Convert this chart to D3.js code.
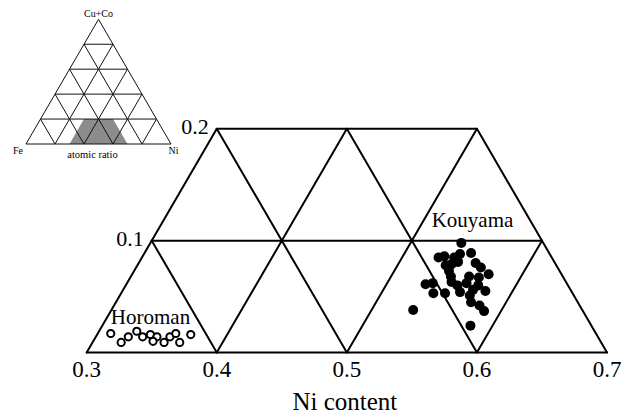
<!DOCTYPE html>
<html>
<head>
<meta charset="utf-8">
<script src="https://cdn.jsdelivr.net/npm/d3@7"></script>
<style>
  html, body { margin: 0; padding: 0; background: #fff; }
  svg { display: block; }
</style>
</head>
<body>
<svg id="chart" width="629" height="414"></svg>
<script>
// Ternary section Fe–Ni–(Cu+Co): compositions as atomic fractions (Ni, Cu+Co).
const niTicks = [0.3, 0.4, 0.5, 0.6, 0.7];
const cuCoTicks = [0.1, 0.2];
const niGrid = [0.3, 0.4, 0.5, 0.6];
const feGrid = [0.3, 0.4, 0.5, 0.6];
const cuCoGrid = [0, 0.1, 0.2];
const insetSteps = [0.2, 0.4, 0.6, 0.8];

const kouyamaNi = [0.539, 0.528, 0.532, 0.540, 0.543, 0.551, 0.541, 0.545, 0.559, 0.542,
                   0.565, 0.546, 0.560, 0.574, 0.568, 0.530, 0.535, 0.540, 0.549, 0.549,
                   0.560, 0.569, 0.569, 0.571, 0.579, 0.573, 0.581, 0.587, 0.532, 0.583,
                   0.555, 0.561, 0.537];
const kouyamaCuCo = [0.098, 0.085, 0.086, 0.085, 0.088, 0.089, 0.079, 0.081, 0.080, 0.073,
                     0.076, 0.068, 0.068, 0.070, 0.067, 0.061, 0.062, 0.053, 0.053, 0.063,
                     0.054, 0.051, 0.056, 0.060, 0.055, 0.045, 0.042, 0.037, 0.038, 0.024,
                     0.060, 0.062, 0.078];

const horomanNi = [0.310, 0.322, 0.325, 0.329, 0.336, 0.341, 0.347, 0.346, 0.355, 0.357,
                   0.360, 0.367, 0.372];
const horomanCuCo = [0.017, 0.009, 0.014, 0.019, 0.014, 0.016, 0.014, 0.010, 0.009, 0.014,
                     0.017, 0.009, 0.016];

const FONT = "'Liberation Serif', 'Times New Roman', Times, serif";
const svg = d3.select("#chart").attr("font-family", FONT);

// ---------- main diagram ----------
const x = d3.scaleLinear().domain([0.3, 0.7]).range([86.7, 607]);
const y = d3.scaleLinear().domain([0, 0.2]).range([352.5, 128.8]);
// horizontal position of a ternary point = Ni + (Cu+Co)/2
const px = (ni, c) => x(ni + c / 2);
const py = (ni, c) => y(c);

const segs = [];
cuCoGrid.forEach(c => segs.push([[0.3, c], [0.7 - c, c]]));
niGrid.forEach(n => segs.push([[n, 0], [n, Math.min(0.2, 0.7 - n)]]));
feGrid.forEach(f => {
  const cMax = Math.min(0.2, 0.7 - f);
  segs.push([[1 - f, 0], [1 - f - cMax, cMax]]);
});

const main = svg.append("g");
main.selectAll("line.grid").data(segs).join("line")
  .attr("x1", d => px(d[0][0], d[0][1])).attr("y1", d => py(d[0][0], d[0][1]))
  .attr("x2", d => px(d[1][0], d[1][1])).attr("y2", d => py(d[1][0], d[1][1]))
  .attr("stroke", "#000").attr("stroke-width", 2).attr("stroke-linecap", "round");

// Ni content ticks along the base
main.selectAll("text.ni").data(niTicks).join("text")
  .attr("font-family", FONT)
  .attr("x", d => px(d, 0)).attr("y", 377)
  .attr("text-anchor", "middle").attr("font-size", 23)
  .text(d => d.toFixed(1));

// Cu+Co ticks along the Ni = 0.3 edge
main.selectAll("text.cu").data(cuCoTicks).join("text")
  .attr("font-family", FONT)
  .attr("x", d => px(0.3, d) - 8).attr("y", d => py(0.3, d) + 5)
  .attr("text-anchor", "end").attr("font-size", 22)
  .text(d => d.toFixed(1));

main.append("text").attr("font-family", FONT)
  .attr("x", x(0.5) - 2).attr("y", 410)
  .attr("text-anchor", "middle").attr("font-size", 25).text("Ni content");

// sample points
main.selectAll("circle.k").data(kouyamaNi.map((n, i) => [n, kouyamaCuCo[i]])).join("circle")
  .attr("cx", d => px(d[0], d[1])).attr("cy", d => py(d[0], d[1]))
  .attr("r", 5).attr("fill", "#000");

main.selectAll("circle.h").data(horomanNi.map((n, i) => [n, horomanCuCo[i]])).join("circle")
  .attr("cx", d => px(d[0], d[1])).attr("cy", d => py(d[0], d[1]))
  .attr("r", 3.6).attr("fill", "#fff").attr("stroke", "#000").attr("stroke-width", 2);

main.append("text").attr("font-family", FONT)
  .attr("x", 472.5).attr("y", 226.7)
  .attr("text-anchor", "middle").attr("font-size", 21).text("Kouyama");
main.append("text").attr("font-family", FONT)
  .attr("x", 150.5).attr("y", 324.3)
  .attr("text-anchor", "middle").attr("font-size", 21).text("Horoman");

// ---------- inset: full Fe–Ni–(Cu+Co) triangle ----------
const ix = d3.scaleLinear().domain([0, 1]).range([26, 171]);
const iy = d3.scaleLinear().domain([0, 1]).range([144, 19.3]);
const ipx = (ni, c) => ix(ni + c / 2);
const ipy = (ni, c) => iy(c);

const inset = svg.append("g");
const shade = [[0.3, 0], [0.7, 0], [0.5, 0.2], [0.3, 0.2]];
inset.append("polygon")
  .attr("points", shade.map(p => [ipx(p[0], p[1]), ipy(p[0], p[1])].join(",")).join(" "))
  .attr("fill", "#8c8c8c");

const isegs = [[[0, 0], [1, 0]], [[0, 0], [0, 1]], [[1, 0], [0, 1]]];
insetSteps.forEach(v => {
  isegs.push([[0, v], [1 - v, v]]);      // constant Cu+Co
  isegs.push([[v, 0], [v, 1 - v]]);      // constant Ni
  isegs.push([[1 - v, 0], [0, 1 - v]]);  // constant Fe
});
inset.selectAll("line").data(isegs).join("line")
  .attr("x1", d => ipx(d[0][0], d[0][1])).attr("y1", d => ipy(d[0][0], d[0][1]))
  .attr("x2", d => ipx(d[1][0], d[1][1])).attr("y2", d => ipy(d[1][0], d[1][1]))
  .attr("stroke", "#111").attr("stroke-width", 1);

inset.append("text").attr("font-family", FONT).attr("x", ipx(0, 1)).attr("y", 16.5)
  .attr("text-anchor", "middle").attr("font-size", 10).text("Cu+Co");
inset.append("text").attr("font-family", FONT).attr("x", 18).attr("y", 154)
  .attr("text-anchor", "middle").attr("font-size", 10).text("Fe");
inset.append("text").attr("font-family", FONT).attr("x", 173.5).attr("y", 154)
  .attr("text-anchor", "middle").attr("font-size", 10).text("Ni");
inset.append("text").attr("font-family", FONT).attr("x", 92.5).attr("y", 158)
  .attr("text-anchor", "middle").attr("font-size", 10.5).text("atomic ratio");
</script>
</body>
</html>
